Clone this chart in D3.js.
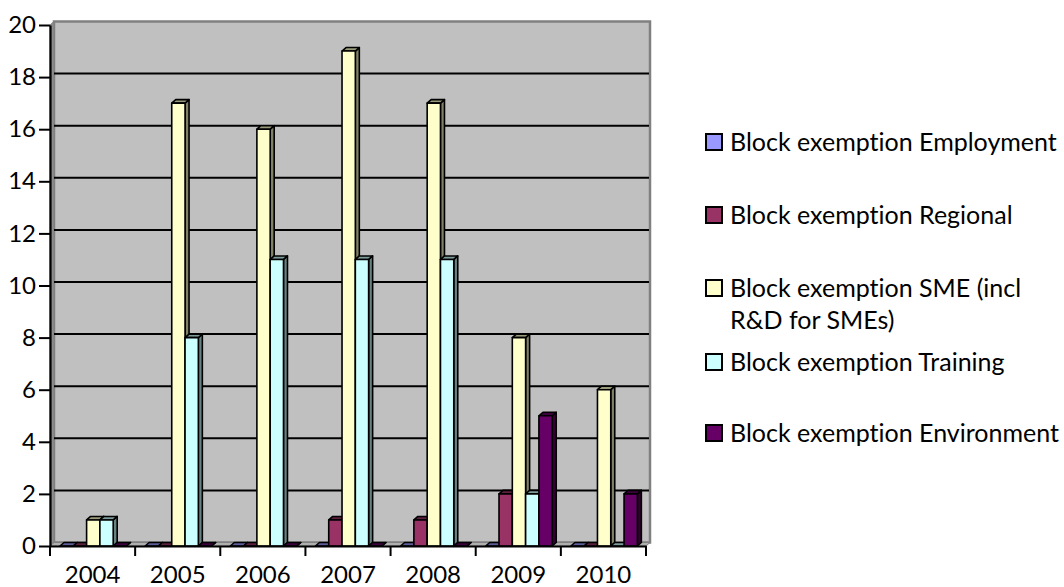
<!DOCTYPE html>
<html>
<head>
<meta charset="utf-8">
<script src="https://cdn.jsdelivr.net/npm/d3@7"></script>
<style>
  body { margin: 0; background: #fff; }
  svg { display: block; font-family: Lato, "Open Sans", sans-serif; font-variant-ligatures: none; }
</style>
</head>
<body>
<svg width="1064" height="587"></svg>
<script>
const years = ["2004", "2005", "2006", "2007", "2008", "2009", "2010"];
const seriesNames = [
  "Block exemption Employment",
  "Block exemption Regional",
  "Block exemption SME (incl R&D for SMEs)",
  "Block exemption Training",
  "Block exemption Environment"
];
const employment = [0, 0, 0, 0, 0, 0, 0];
const regional = [0, 0, 0, 1, 1, 2, 0];
const sme = [1, 17, 16, 19, 17, 8, 6];
const training = [1, 8, 11, 11, 11, 2, 0];
const environment = [0, 0, 0, 0, 0, 5, 2];
const yTicks = [0, 2, 4, 6, 8, 10, 12, 14, 16, 18, 20];
const colors = ["#9999FF", "#993366", "#FFFFCC", "#CCFFFF", "#660066"];

const allSeries = [employment, regional, sme, training, environment];

const svg = d3.select("svg");

// layout
const plotLeft = 50, plotRight = 646, plotTop = 25, plotBottom = 546;
const dx = 4, dy = 3.5; // 3d depth

const x = d3.scaleBand().domain(years).range([plotLeft, plotRight]);
const inner = d3.scaleBand().domain(seriesNames).range([10, 76.5]);
const y = d3.scaleLinear().domain([0, 20]).range([plotBottom, plotTop]);

// walls
svg.append("rect")
  .attr("x", plotLeft + dx).attr("y", plotTop - dy)
  .attr("width", plotRight - plotLeft).attr("height", plotBottom - plotTop)
  .attr("fill", "#C0C0C0")
  .attr("stroke", "#808080").attr("stroke-width", 2.5);

svg.append("polygon")
  .attr("points", [[plotLeft, plotTop], [plotLeft + dx, plotTop - dy], [plotLeft + dx, plotBottom - dy], [plotLeft, plotBottom]].join(" "))
  .attr("fill", "#8c8c8c").attr("stroke", "#808080");

svg.append("polygon")
  .attr("points", [[plotLeft, plotBottom], [plotLeft + dx, plotBottom - dy], [plotRight + dx, plotBottom - dy], [plotRight, plotBottom]].join(" "))
  .attr("fill", "#b0b0b0").attr("stroke", "#808080");

// gridlines on back wall
svg.append("g")
  .selectAll("line")
  .data(yTicks.filter(d => d > 0 && d < 20))
  .join("line")
  .attr("x1", plotLeft + dx).attr("x2", plotRight + dx - 1)
  .attr("y1", d => y(d) - dy).attr("y2", d => y(d) - dy)
  .attr("stroke", "#000").attr("stroke-width", 2);

// bars
const bars = svg.append("g");
years.forEach((yr, i) => {
  seriesNames.forEach((s, j) => {
    const v = allSeries[j][i];
    const x0 = x(yr) + inner(s);
    const x1 = x0 + inner.bandwidth();
    const yt = y(v), yb = y(0);
    const c = d3.color(colors[j]);
    const g = bars.append("g")
      .attr("stroke", "#000").attr("stroke-width", 1.6).attr("stroke-linejoin", "round");
    // side
    g.append("polygon")
      .attr("points", [[x1, yt], [x1 + dx, yt - dy], [x1 + dx, yb - dy], [x1, yb]].join(" "))
      .attr("fill", c.darker(1.9));
    // top
    g.append("polygon")
      .attr("points", [[x0, yt], [x0 + dx, yt - dy], [x1 + dx, yt - dy], [x1, yt]].join(" "))
      .attr("fill", c.darker(1.4));
    // front
    g.append("rect")
      .attr("x", x0).attr("y", yt)
      .attr("width", x1 - x0).attr("height", yb - yt)
      .attr("fill", colors[j]);
  });
});

// y axis
const yAxis = svg.append("g")
  .attr("transform", `translate(${plotLeft},0)`)
  .call(d3.axisLeft(y).tickValues(yTicks).tickSize(11).tickPadding(3).tickSizeOuter(0));
yAxis.select(".domain").attr("stroke", "#000").attr("stroke-width", 2.2);
yAxis.selectAll(".tick line").attr("stroke", "#000").attr("stroke-width", 2);
yAxis.selectAll(".tick text")
  .attr("font-family", "Lato").attr("font-size", 24).attr("fill", "#000");

// x axis
const xAxis = svg.append("g")
  .attr("transform", `translate(0,${plotBottom})`)
  .call(d3.axisBottom(x).tickSize(0).tickPadding(20).tickSizeOuter(0));
xAxis.select(".domain").attr("stroke", "#000").attr("stroke-width", 2.2);
xAxis.selectAll(".tick text")
  .attr("font-family", "Lato").attr("font-size", 24).attr("fill", "#000");

// category boundary ticks
svg.append("g")
  .selectAll("line")
  .data(years.map(d => x(d)).concat([x(years[years.length - 1]) + x.bandwidth()]))
  .join("line")
  .attr("x1", d => d).attr("x2", d => d)
  .attr("y1", plotBottom).attr("y2", plotBottom + 10)
  .attr("stroke", "#000").attr("stroke-width", 2);

// legend
const legendLines = [
  ["Block exemption Employment"],
  ["Block exemption Regional"],
  ["Block exemption SME (incl", "R&D for SMEs)"],
  ["Block exemption Training"],
  ["Block exemption Environment"]
];
const legendY = [142, 215, 288, 362, 433];
const legend = svg.append("g");
seriesNames.forEach((s, j) => {
  const cy = legendY[j];
  legend.append("rect")
    .attr("x", 706).attr("y", cy - 8)
    .attr("width", 16).attr("height", 16)
    .attr("fill", colors[j]).attr("stroke", "#000").attr("stroke-width", 2);
  const t = legend.append("text")
    .attr("x", 730).attr("y", cy)
    .attr("font-size", 25).attr("fill", "#000");
  legendLines[j].forEach((line, k) => {
    t.append("tspan").attr("x", 730).attr("dy", k === 0 ? "0.35em" : 32).text(line);
  });
});
</script>
</body>
</html>
